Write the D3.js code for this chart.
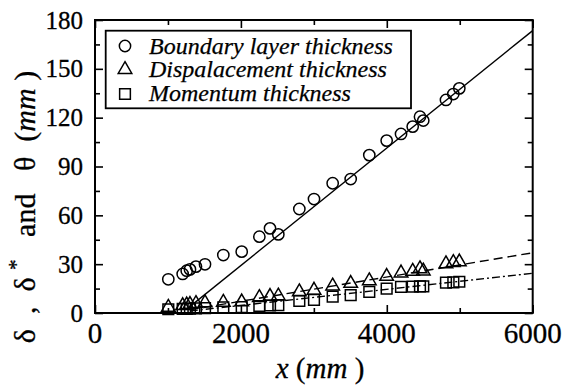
<!DOCTYPE html>
<html>
<head>
<meta charset="utf-8">
<script src="https://cdn.jsdelivr.net/npm/d3@7"></script>
<style>
  html, body { margin: 0; padding: 0; background: #fff; }
  svg { display: block; }
</style>
</head>
<body>
<svg id="chart" width="571" height="388"></svg>
<script>
// Streamwise stations x (mm)
const xStations = [1005, 1202, 1257, 1302, 1384, 1508, 1759, 2011, 2253, 2399, 2513, 2801,
                   3002, 3258, 3505, 3760, 3998, 4195, 4355, 4455, 4500, 4811, 4912, 4994];
// Boundary layer thickness δ (mm)
const boundary = [20.7, 24, 26, 26.8, 28.5, 29.9, 35.6, 37.7, 46.9, 52, 48.3, 63.9,
                  70, 79.7, 82.3, 97, 105.9, 110, 114.5, 120.6, 118.2, 130.9, 134.5, 138];
// Displacement thickness δ* (mm)
const displacement = [3.5, 4.5, 5, 5.3, 5.8, 6.3, 6.6, 6.8, 9.5, 10.2, 10.4, 13,
                      14, 16.6, 18.2, 19.8, 22.5, 24.6, 25.6, 27.2, 25.8, 30.2, 31, 31.4];
// Momentum thickness θ (mm)
const momentum = [2.3, 2.5, 2.6, 2.7, 2.9, 3.0, 3.5, 3.6, 4.3, 4.6, 4.9, 7.5,
                  8, 10, 11, 13, 15, 16, 16.2, 16.4, 16.3, 18.6, 18.8, 19.2];

// Linear fits [x, y] end points
const boundaryFit = [[1330, 5], [6000, 173.5]];
const displacementFit = [[1300, 2], [6000, 37]];
const momentumFit = [[1300, 1.2], [6000, 24.4]];

const xTicks = [0, 2000, 4000, 6000];
const xMinorTicks = [1000, 3000, 5000];
const yTicks = [0, 30, 60, 90, 120, 150, 180];
const yMinorTicks = [15, 45, 75, 105, 135, 165];

const legendLabels = ["Boundary layer thickness", "Dispalacement thickness", "Momentum thickness"];

const FONT = "'Liberation Serif', 'DejaVu Serif', serif";

const svg = d3.select("#chart").attr("font-family", FONT);
const plot = { left: 95, right: 532.7, top: 20, bottom: 313 };

const x = d3.scaleLinear().domain([0, 6000]).range([plot.left, plot.right]);
const y = d3.scaleLinear().domain([0, 180]).range([plot.bottom, plot.top]);

// Inward ticks on all four sides
function tickAxis(axisFn, scale, ticks, len, transform) {
  const g = svg.append("g").attr("transform", transform)
    .call(axisFn(scale).tickValues(ticks).tickSize(len).tickFormat(""));
  g.select(".domain").remove();
  g.selectAll(".tick line").attr("stroke", "#000").attr("stroke-width", 1.6);
  return g;
}
tickAxis(d3.axisBottom, x, xTicks, -8, `translate(0,${plot.bottom})`);
tickAxis(d3.axisBottom, x, xMinorTicks, -5, `translate(0,${plot.bottom})`);
tickAxis(d3.axisTop, x, xTicks, -8, `translate(0,${plot.top})`);
tickAxis(d3.axisTop, x, xMinorTicks, -5, `translate(0,${plot.top})`);
tickAxis(d3.axisLeft, y, yTicks, -8, `translate(${plot.left},0)`);
tickAxis(d3.axisLeft, y, yMinorTicks, -5, `translate(${plot.left},0)`);
tickAxis(d3.axisRight, y, yTicks, -8, `translate(${plot.right},0)`);
tickAxis(d3.axisRight, y, yMinorTicks, -5, `translate(${plot.right},0)`);

// Frame
svg.append("rect")
  .attr("x", plot.left).attr("y", plot.top)
  .attr("width", plot.right - plot.left).attr("height", plot.bottom - plot.top)
  .attr("fill", "none").attr("stroke", "#000").attr("stroke-width", 2);

// Tick labels
svg.append("g").selectAll("text").data(xTicks).join("text")
  .attr("x", d => x(d)).attr("y", 343)
  .attr("text-anchor", "middle").attr("font-size", 29)
  .attr("stroke", "#000").attr("stroke-width", 0.3)
  .text(d => d);
svg.append("g").selectAll("text").data(yTicks).join("text")
  .attr("x", 83).attr("y", d => y(d) + 8.5)
  .attr("text-anchor", "end").attr("font-size", 25)
  .attr("stroke", "#000").attr("stroke-width", 0.3)
  .text(d => d);

// Axis titles
const xt = svg.append("text").attr("x", 320).attr("y", 378)
  .attr("text-anchor", "middle").attr("font-size", 29).style("white-space", "pre")
  .attr("stroke", "#000").attr("stroke-width", 0.3);
xt.append("tspan").attr("font-style", "italic").text("x");
xt.append("tspan").text(" (");
xt.append("tspan").attr("font-style", "italic").text("mm");
xt.append("tspan").text(" )");

const yt = svg.append("text")
  .attr("transform", "translate(35,207) rotate(-90)")
  .attr("text-anchor", "middle").attr("font-size", 30)
  .attr("stroke", "#000").attr("stroke-width", 0.3)
  .style("white-space", "pre");
yt.append("tspan").text("δ  ,  δ ");
yt.append("tspan").attr("font-size", 21).attr("dy", -12).text("*");
yt.append("tspan").attr("dy", 12).text("   and   θ  (");
yt.append("tspan").attr("font-style", "italic").text("mm");
yt.append("tspan").text(" )");

// Fit lines
const line = d3.line().x(d => x(d[0])).y(d => y(d[1]));
svg.append("path").datum(boundaryFit).attr("d", line)
  .attr("fill", "none").attr("stroke", "#000").attr("stroke-width", 1.4);
svg.append("path").datum(displacementFit).attr("d", line)
  .attr("fill", "none").attr("stroke", "#000").attr("stroke-width", 1.4)
  .attr("stroke-dasharray", "9,5");
svg.append("path").datum(momentumFit).attr("d", line)
  .attr("fill", "none").attr("stroke", "#000").attr("stroke-width", 1.4)
  .attr("stroke-dasharray", "8,3,2,3");

// Markers
const sym = {
  circle: d3.symbol().type(d3.symbolCircle).size(100),
  triangle: d3.symbol().type(d3.symbolTriangle).size(80),
  square: d3.symbol().type(d3.symbolSquare).size(115)
};
function drawSeries(values, gen) {
  svg.append("g").selectAll("path").data(values).join("path")
    .attr("transform", (d, i) => `translate(${x(xStations[i])},${y(d)})`)
    .attr("d", gen())
    .attr("fill", "none").attr("stroke", "#000").attr("stroke-width", 1.5);
}
drawSeries(boundary, sym.circle);
drawSeries(displacement, sym.triangle);
drawSeries(momentum, sym.square);

// Legend
const lg = svg.append("g");
lg.append("rect").attr("x", 105.7).attr("y", 30.7).attr("width", 305.3).attr("height", 77.6)
  .attr("fill", "#fff").attr("stroke", "#000").attr("stroke-width", 1.8);
const legendSyms = [sym.circle, sym.triangle, sym.square];
const rowY = [46, 69.5, 94];
const baseY = [53.5, 77.3, 100.7];
legendLabels.forEach((lab, i) => {
  lg.append("path").attr("transform", `translate(125,${rowY[i]})`)
    .attr("d", legendSyms[i]()).attr("fill", "none").attr("stroke", "#000").attr("stroke-width", 1.5);
  lg.append("text").attr("x", 149).attr("y", baseY[i])
    .attr("font-size", 24).attr("font-style", "italic")
    .attr("stroke", "#000").attr("stroke-width", 0.25)
    .text(lab);
});
</script>
</body>
</html>
